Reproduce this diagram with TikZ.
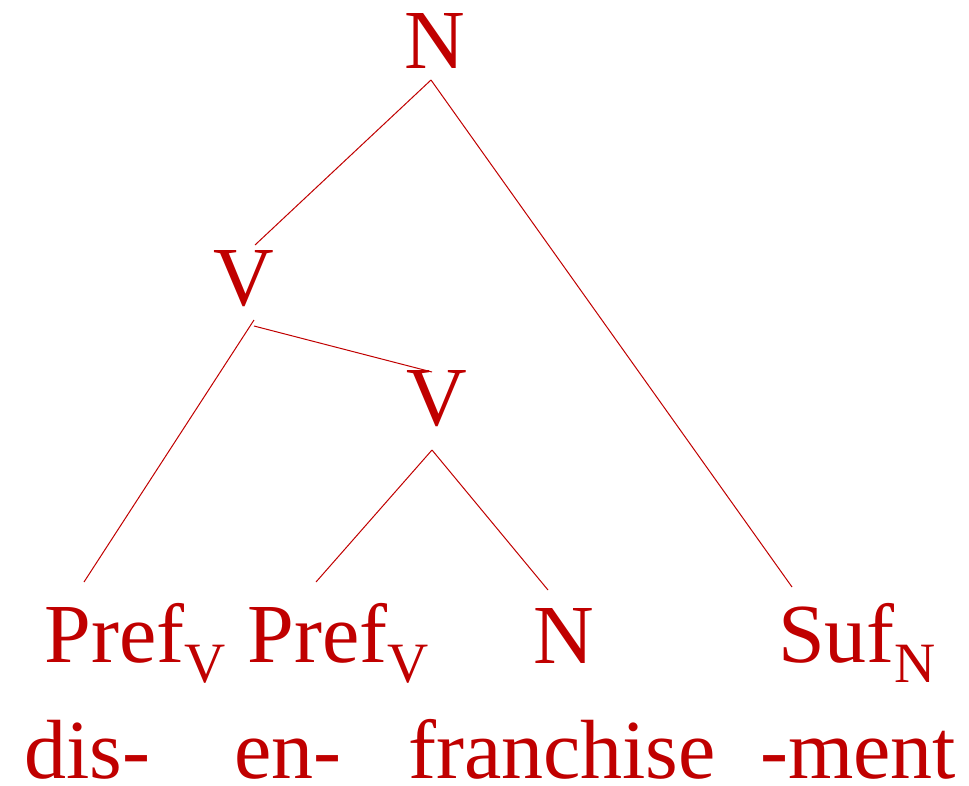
\documentclass[tikz,border=0pt]{standalone}
\usepackage{fontspec}
\setmainfont{Liberation Serif}
\definecolor{treered}{RGB}{192,0,0}
\newcommand{\subV}[1]{\raisebox{-20pt}{\fontsize{57}{60}\selectfont #1}}
\begin{document}
\begin{tikzpicture}[x=1pt,y=-1pt,
  lab/.style={text=treered,inner sep=0pt,anchor=base,font=\fontsize{84}{100}\selectfont},
  word/.style={lab,text depth=0pt},
  edge/.style={draw=treered,line width=1pt}]
\useasboundingbox (0,0) rectangle (969,785);
% labels
\node[lab] (n0) at (435,68) {N};
\node[lab] (v1) at (244,305) {V};
\node[lab] (v2) at (437,425) {V};
\node[lab] (p1) at (135,662) {Pref\subV{V}};
\node[lab] (p2) at (338,662) {Pref\subV{V}};
\node[lab] (n1) at (564,663) {N};
\node[lab] (s1) at (857,662) {Suf\subV{N}};
\node[word] (w1) at (87,778) {dis-};
\node[word] (w2) at (288,778) {en-};
\node[word] (w3) at (562,778) {franchise};
\node[word] (w4) at (858,778) {-ment};
% edge end points
\coordinate (n0b) at (431,80);
\coordinate (v1t) at (255,245);
\coordinate (s1t) at (792,587);
\coordinate (v1b) at (254,320);
\coordinate (v1c) at (254,326);
\coordinate (p1t) at (84,582);
\coordinate (v2t) at (432,372);
\coordinate (v2b) at (432,450);
\coordinate (p2t) at (316,582);
\coordinate (n1t) at (548,590);
\draw[edge] (n0b) -- (v1t);
\draw[edge] (n0b) -- (s1t);
\draw[edge] (v1b) -- (p1t);
\draw[edge] (v1c) -- (v2t);
\draw[edge] (v2b) -- (p2t);
\draw[edge] (v2b) -- (n1t);
\end{tikzpicture}
\end{document}
